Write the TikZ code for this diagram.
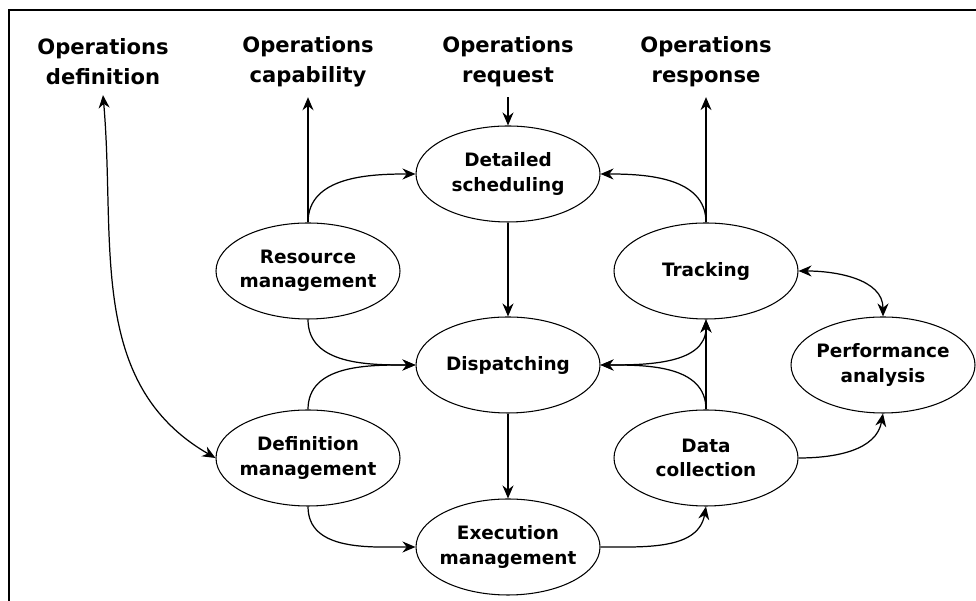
\documentclass[tikz,border=0pt]{standalone}
\usepackage{fontspec}
\setmainfont{DejaVu Sans}
\usetikzlibrary{arrows.meta, shapes.geometric}

\tikzset{
  func/.style={ellipse, draw, line width=0.6pt, minimum width=3.68cm, minimum height=1.92cm,
               inner xsep=-2mm, inner ysep=0pt, align=center,
               font=\fontsize{10.5}{13.8}\selectfont\bfseries},
  info/.style={align=center, inner sep=5.5pt, font=\fontsize{12}{17}\selectfont\bfseries},
  flow/.style={draw, line width=0.7pt, ->},
  twoway/.style={draw, line width=0.7pt, <->}
}

\begin{document}
\begin{tikzpicture}[>={Stealth[length=2.6mm, width=2.2mm]}]
        \useasboundingbox (0,0) rectangle (19.52,12.02);
        \draw[line width=0.7pt] (0.18,0) -- (0.18,11.82) -- (19.52,11.82);
        % outside information
        \node[info] (opdef)  at (2.06,10.78)  {Operations\\definition};
        \node[info] (opcap)  at (6.16,10.78)  {Operations\\capability};
        \node[info] (opreq)  at (10.16,10.78) {Operations\\request};
        \node[info] (opresp) at (14.12,10.78) {Operations\\response};
        % activities
        \node[func] (sched) at (10.16,8.54) {Detailed\\scheduling};
        \node[func] (res)   at (6.16,6.6)   {Resource\\management};
        \node[func] (track) at (14.12,6.6)  {Tracking};
        \node[func] (disp)  at (10.16,4.72) {Dispatching};
        \node[func] (perf)  at (17.66,4.72) {Performance\\analysis};
        \node[func] (defm)  at (6.16,2.86)  {Definition\\management};
        \node[func] (data)  at (14.12,2.86) {Data\\collection};
        \node[func] (exec)  at (10.16,1.08) {Execution\\management};
        % flows
        \draw[flow] (opreq) -- (sched);
        \draw[flow] (res.north) -- (opcap.south);
        \draw[flow] (res.north) to[out=90, in=180] (sched.west);
        \draw[flow] (track.north) -- (opresp.south);
        \draw[flow] (track.north) to[out=90, in=0] (sched.east);
        \draw[flow] (sched) -- (disp);
        \draw[flow] (res.south) to[out=-90, in=180] (disp.west);
        \draw[flow] (defm.north) to[out=90, in=180] (disp.west);
        \draw[flow] (disp) -- (exec);
        \draw[flow] (defm.south) to[out=-90, in=180] (exec.west);
        \draw[flow] (exec.east) to[out=0, in=-100] (data.south);
        \draw[flow] (data.north) -- (track.south);
        \draw[flow] (data.north) to[out=90, in=0] (disp.east);
        \draw[twoway] (disp.east) to[out=0, in=-90] (track.south);
        \draw[twoway] (track.east) to[out=0, in=90] (perf.north);
        \draw[flow] (data.east) to[out=0, in=-100] (perf.south);
        \draw[twoway] (opdef.south) to[out=-85, in=150] (defm.west);
      \end{tikzpicture}
\end{document}
